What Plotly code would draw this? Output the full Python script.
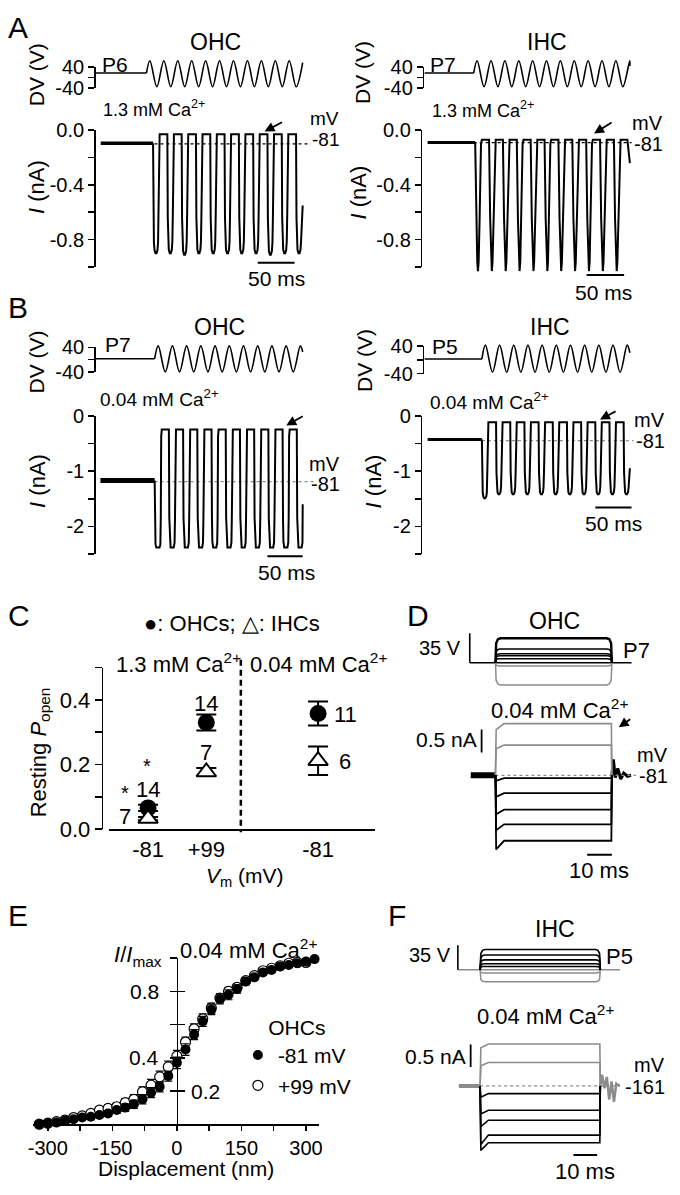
import plotly.graph_objects as go

W, H = 680, 1195
FONT = "Liberation Sans, Arial, sans-serif"
K = "#000000"
G = "#8c8c8c"

# ======================= DATA =======================
# ---- A, OHC (P6), 1.3 mM Ca2+ : time (ms), current (nA), stimulus DV (V)
A1_base = -0.095
A1_step = 71.0
A1_period = 19.4
A1_troughs = [-0.90, -0.90, -0.91, -0.90, -0.90, -0.90, -0.90, -0.90, -0.91, -0.90, -0.90]
A1_peaks = [-0.03, -0.03, -0.03, -0.03, -0.03, -0.03, -0.03, -0.03, -0.03, -0.03]
A1_end = [274.0, -0.55]
A1_rest = -0.10
A1_rest_t = [73.0, 285.0]
A1_dv_t0 = -6.6
A1_dv_base = 17
A1_dv_on = 62.0
A1_dv_period = 18.9
A1_dv_peaks = [65, 65, 65, 65, 65, 65, 65, 65, 65, 65, 65]
A1_dv_troughs = [-36, -36, -36, -36, -36, -36, -36, -36, -36, -36, -36]
A1_dv_end = [274.0, 58]

# ---- A, IHC (P7), 1.3 mM Ca2+
A2_base = -0.09
A2_step = 63.4
A2_period = 18.5
A2_troughs = [-1.03, -1.03, -1.03, -1.03, -1.03, -1.03, -1.03, -1.03, -1.03, -1.03, -1.03]
A2_peaks = [-0.07, -0.07, -0.07, -0.07, -0.07, -0.07, -0.07, -0.07, -0.07, -0.07, -0.07]
A2_end = [269.7, -0.24]
A2_rest = -0.09
A2_rest_t = [61.4, 272.0]
A2_dv_t0 = -4.3
A2_dv_base = 17
A2_dv_on = 61.4
A2_dv_period = 18.5
A2_dv_peaks = [65, 65, 65, 65, 65, 65, 65, 65, 65, 65, 65, 65]
A2_dv_troughs = [-36, -36, -36, -36, -36, -36, -36, -36, -36, -36, -36]
A2_dv_end = [269.7, 45]

# ---- B, OHC (P7), 0.04 mM Ca2+
B1_base = -1.17
B1_step = 77.1
B1_period = 20.2
B1_troughs = [-2.38, -2.38, -2.38, -2.38, -2.38, -2.38, -2.38, -2.38, -2.38, -2.38, -2.38]
B1_peaks = [-0.25, -0.25, -0.25, -0.25, -0.25, -0.25, -0.25, -0.25, -0.25, -0.25]
B1_end = [287.5, -1.6]
B1_rest = -1.19
B1_rest_t = [77.0, 303.0]
B1_dv_t0 = -6.5
B1_dv_base = 3
B1_dv_on = 77.1
B1_dv_period = 20.2
B1_dv_peaks = [45, 45, 45, 45, 45, 45, 45, 45, 45, 45, 45]
B1_dv_troughs = [-40, -40, -40, -40, -40, -40, -40, -40, -40, -40]
B1_dv_end = [287.5, 25]

# ---- B, IHC (P5), 0.04 mM Ca2+
B2_base = -0.43
B2_step = 75.0
B2_period = 19.6
B2_troughs = [-1.49, -1.42, -1.42, -1.42, -1.42, -1.42, -1.42, -1.42, -1.42, -1.42, -1.42]
B2_peaks = [-0.12, -0.12, -0.12, -0.12, -0.12, -0.12, -0.12, -0.12, -0.12, -0.12]
B2_end = [279.6, -0.95]
B2_rest = -0.45
B2_rest_t = [75.0, 284.5]
B2_dv_t0 = -4.4
B2_dv_base = 2
B2_dv_on = 75.0
B2_dv_period = 19.6
B2_dv_peaks = [42, 42, 42, 42, 42, 42, 42, 42, 42, 42, 42]
B2_dv_troughs = [-36, -36, -36, -36, -36, -36, -36, -36, -36, -36]
B2_dv_end = [279.6, 20]

# ---- C, resting Popen
C_pos = [1, 2, 3.92]
C_labels = ["-81", "+99", "-81"]
C_ohc = [0.066, 0.330, 0.358]
C_ohc_err = [0.010, 0.025, 0.037]
C_ihc = [0.033, 0.177, 0.212]
C_ihc_err = [0.005, 0.012, 0.044]

# ---- D, OHC (P7) steps, 0.04 mM Ca2+
D_off = 47.2
D_dv_t = [-10.4, 55.2]
D_dv_black = [29.0, 16.3, 10.5, 8.2, 4.7]
D_dv_grey = [-4.0, -26.5]
D_i_black = [-0.06, -0.39, -0.75, -1.07, -1.43]
D_i_black_on = [-0.12, -0.47, -0.85, -1.20, -1.62]
D_i_grey = [1.13, 0.66]
D_i_grey_on = [1.00, 0.58]
D_pre_t = [-10.0, 0.0]
D_post_t = [47.2, 47.8, 48.6, 49.6, 50.8, 52.0, 53.5, 55.0]
D_post_v = [0.0, 0.35, -0.05, 0.15, -0.08, 0.05, -0.02, 0.0]
D_rest_t = [0.0, 57.0]

# ---- E, activation curves (OHCs)
E_disp = [-320, -300, -280, -260, -240, -220, -200, -180, -160, -140, -120, -100, -80, -60, -40, -20, 0,
          20, 40, 60, 80, 100, 120, 140, 160, 180, 200, 220, 240, 260, 280, 300, 320]
E_m81 = [0.0, 0.006, 0.01, 0.02, 0.03, 0.04, 0.045, 0.055, 0.065, 0.085, 0.10, 0.12, 0.15, 0.19, 0.225, 0.29, 0.37,
         0.45, 0.54, 0.62, 0.69, 0.755, 0.78, 0.815, 0.86, 0.885, 0.915, 0.93, 0.95, 0.96, 0.97, 0.98, 0.995]
E_m81_err = [0.005, 0.005, 0.005, 0.006, 0.008, 0.01, 0.012, 0.014, 0.016, 0.02, 0.022, 0.025, 0.028, 0.03, 0.03, 0.03, 0.035,
             0.035, 0.03, 0.03, 0.03, 0.03, 0.03, 0.025, 0.02, 0.018, 0.015, 0.012, 0.01, 0.008, 0.008, 0.006, 0.006]
E_p99 = [0.0, 0.006, 0.015, 0.025, 0.04, 0.05, 0.065, 0.085, 0.095, 0.105, 0.13, 0.15, 0.195, 0.235, 0.285, 0.345, 0.41,
         0.495, 0.575, 0.635, 0.70, 0.76, 0.80, 0.825, 0.865, 0.895, 0.925, 0.94, 0.955, 0.97, 0.975, 0.975, 1.01]
E_p99_err = [0.005, 0.005, 0.006, 0.008, 0.01, 0.012, 0.014, 0.016, 0.02, 0.022, 0.025, 0.028, 0.03, 0.035, 0.035, 0.035, 0.035,
             0.03, 0.03, 0.03, 0.03, 0.025, 0.025, 0.02, 0.018, 0.016, 0.014, 0.012, 0.01, 0.008, 0.008, 0.006, 0.006]

# ---- F, IHC (P5) steps, 0.04 mM Ca2+
F_off = 50.75
F_dv_t = [-9.4, 59.1]
F_dv_black = [28.8, 21.0, 14.0, 8.4, 4.6]
F_dv_grey = [-4.8, -17.4]
F_i_black = [-0.17, -0.54, -0.76, -1.09, -1.26]
F_i_black_on = [-0.25, -0.62, -0.90, -1.30, -1.43]
F_i_grey = [0.93, 0.52]
F_i_grey_on = [0.85, 0.45]
F_pre_t = [-9.0, 0.0]
F_post_t = [50.75, 51.5, 52.5, 53.5, 54.5, 55.5, 56.5, 57.5, 59.0]
F_post_v = [0.0, 0.25, -0.05, 0.2, -0.3, 0.1, -0.35, 0.05, 0.0]
F_rest_t = [0.0, 59.0]

# ======================= waveform templates (shape only) =======================
U_DOWN = [(0.0, 0.0), (0.03, 0.7), (0.06, 0.9), (0.10, 0.97), (0.17, 1.0), (0.24, 1.0), (0.31, 0.97), (0.35, 0.9)]
U_UP = [(0.38, 0.7), (0.42, 0.08), (0.46, 0.0), (0.97, 0.0)]
R_DOWN = [(0.0, 0.0), (0.03, 0.75), (0.06, 0.95), (0.12, 1.0), (0.34, 1.0), (0.40, 0.96)]
R_UP = [(0.43, 0.75), (0.46, 0.06), (0.50, 0.0), (0.97, 0.0)]
V_DOWN = [(0.0, 0.0), (0.08, 0.6), (0.15, 0.93), (0.2, 1.0)]
V_UP = [(0.25, 0.93), (0.32, 0.6), (0.42, 0.03), (0.48, 0.0), (0.97, 0.0)]


def osc(t_step, period, base, troughs, peaks, end, down, up):
    ts, vs = [], []
    prev = base
    for k, tr in enumerate(troughs):
        for ph, fr in down:
            ts.append(t_step + (k + ph) * period)
            vs.append(prev + fr * (tr - prev))
        if k < len(peaks):
            pk = peaks[k]
            for ph, fr in up:
                ts.append(t_step + (k + ph) * period)
                vs.append(pk + fr * (tr - pk))
            prev = pk
    ts.append(end[0])
    vs.append(end[1])
    return ts, vs


def sine(t_on, period, base, peaks, troughs, end):
    ts, vs = [t_on], [base]
    for k in range(len(peaks)):
        ts.append(t_on + (k + 0.25) * period)
        vs.append(peaks[k])
        if k < len(troughs):
            ts.append(t_on + (k + 0.75) * period)
            vs.append(troughs[k])
    ts.append(end[0])
    vs.append(end[1])
    return ts, vs


def vpulse(off, lev):
    return ([0, 0.3, 1.0, 2.0, off - 2.0, off - 1.0, off - 0.3, off],
            [0, 0.8 * lev, 0.96 * lev, lev, lev, 0.96 * lev, 0.8 * lev, 0])


def ipulse(off, lev, onset):
    return [0, 0.3, 3.5, off - 0.2, off], [0, onset, lev, lev, 0]


# ======================= figure helpers =======================
fig = go.Figure()
layout = {}
ann = []
shapes = []
_n = [0]


def axes(xdom, ydom, xcal, ycal, xkw=None, ykw=None):
    _n[0] += 1
    s = "" if _n[0] == 1 else str(_n[0])
    xp, xv, xs = xcal
    yp, yv, ys = ycal
    xa = dict(domain=[xdom[0] / W, xdom[1] / W],
              range=[xv + (xdom[0] - xp) / xs, xv + (xdom[1] - xp) / xs],
              visible=False, fixedrange=True, anchor="y" + s, showgrid=False, zeroline=False)
    ya = dict(domain=[1 - ydom[1] / H, 1 - ydom[0] / H],
              range=[yv + (yp - ydom[1]) / ys, yv + (yp - ydom[0]) / ys],
              visible=False, fixedrange=True, anchor="x" + s, showgrid=False, zeroline=False)
    if xkw:
        xa.update(xkw)
    if ykw:
        ya.update(ykw)
    layout["xaxis" + s] = xa
    layout["yaxis" + s] = ya
    return "x" + s, "y" + s


def yvis(vals, text, minor_vals, ticklen=6, size=20, **kw):
    d = dict(visible=True, showline=True, linecolor=K, linewidth=1.6, ticks="outside", ticklen=ticklen,
             tickwidth=1.6, tickcolor=K, tickvals=vals,
             tickfont=dict(size=size, family=FONT, color=K))
    if text is not None:
        d["ticktext"] = text
    if minor_vals:
        d["minor"] = dict(tickvals=minor_vals, ticks="outside", ticklen=ticklen, tickwidth=1.6, tickcolor=K,
                          showgrid=False)
    d.update(kw)
    return d


def line(xa, ya, t, v, color=K, width=2.0, dash=None, shape="linear"):
    fig.add_trace(go.Scatter(x=t, y=v, xaxis=xa, yaxis=ya, mode="lines",
                             line=dict(color=color, width=width, dash=dash, shape=shape),
                             showlegend=False, hoverinfo="skip"))


def T(s, x, y, size=21, xa="center", ya="middle", ang=0, color=K, xref="paper", yref="paper"):
    if xref == "paper":
        x = x / W
    if yref == "paper":
        y = 1 - y / H
    ann.append(dict(text=s, x=x, y=y, xref=xref, yref=yref, xanchor=xa, yanchor=ya, showarrow=False,
                    textangle=ang, borderpad=0, font=dict(size=size, color=color, family=FONT)))


def arrow(xt, yt, xh, yh):
    ann.append(dict(text="", x=xh / W, y=1 - yh / H, xref="paper", yref="paper", ax=xt - xh, ay=yt - yh,
                    showarrow=True, arrowhead=2, arrowsize=1.1, arrowwidth=1.8, arrowcolor=K))


CA13 = "1.3 mM Ca<sup>2+</sup>"
CA004 = "0.04 mM Ca<sup>2+</sup>"
I_LAB = "<i>I</i> (nA)"


def trace_panel(x_axis_px, stim_axis_px, right_px, xcal, cur_top, cur_bot, cur_cal, cur_ticks, cur_text,
                cur_minor, stim_top, stim_bot,
                base, step, period, troughs, peaks, end, down, up, rest, rest_t, base_w, rest_col,
                dv_t0, dv_base, dv_on, dv_period, dv_peaks, dv_troughs, dv_end, bar_t, bar_y):
    # visible current axis (carries the baseline and the resting-level line)
    xf, yf = axes((x_axis_px, right_px), (cur_top, cur_bot), xcal, cur_cal,
                  ykw=yvis(cur_ticks, cur_text, cur_minor))
    line(xf, yf, [0, step], [base, base], width=base_w)
    line(xf, yf, rest_t, [rest, rest], color=rest_col, width=1.2, dash="3px,3px")
    # free-drawing area with the same scale
    xd, yd = axes((x_axis_px, right_px + 30), (cur_top - 20, cur_bot + 40), xcal, cur_cal)
    t, v = osc(step, period, base, troughs, peaks, end, down, up)
    line(xd, yd, t, v, width=2.0)
    line(xd, yd, bar_t, [bar_y, bar_y], width=2.0)
    # stimulus bracket axis (carries the flat pre-stimulus segment)
    stim_cal = (stim_top, 40, (stim_bot - stim_top) / 80.0)
    xs0, ys0 = axes((stim_axis_px, right_px), (stim_top, stim_bot), xcal, stim_cal,
                    ykw=yvis([-40, 40], ["-40", "40"], [0], ticklen=6))
    line(xs0, ys0, [dv_t0, dv_on], [dv_base, dv_base], width=1.6)
    xs, ys = axes((stim_axis_px, right_px), (stim_top - 14, stim_bot + 10), xcal, stim_cal)
    t, v = sine(dv_on, dv_period, dv_base, dv_peaks, dv_troughs, dv_end)
    line(xs, ys, t, v, width=1.6, shape="spline")


A_TICKS = ([0, -0.4, -0.8], ["0.0", "-0.4", "-0.8"], [-0.2, -0.6, -1.0])
B_TICKS = ([0, -1, -2], ["0", "-1", "-2"], [-0.5, -1.5, -2.5])

# ======================= Panel A =======================
trace_panel(92, 92, 315, (97, 0, 0.747), 121.7, 261.22, (121.7, 0, 139.5), *A_TICKS,
            57.3, 78.3,
            A1_base, A1_step, A1_period, A1_troughs, A1_peaks, A1_end, U_DOWN, U_UP,
            A1_rest, A1_rest_t, 3.5, K,
            A1_dv_t0, A1_dv_base, A1_dv_on, A1_dv_period, A1_dv_peaks, A1_dv_troughs, A1_dv_end,
            [213.0, 263.0], -0.97)
trace_panel(423, 425, 645, (428.3, 0, 0.76), 121.7, 261.22, (121.7, 0, 139.5), *A_TICKS,
            57.3, 78.3,
            A2_base, A2_step, A2_period, A2_troughs, A2_peaks, A2_end, V_DOWN, V_UP,
            A2_rest, A2_rest_t, 3.0, K,
            A2_dv_t0, A2_dv_base, A2_dv_on, A2_dv_period, A2_dv_peaks, A2_dv_troughs, A2_dv_end,
            [212.0, 262.0], -1.058)

# ======================= Panel B =======================
trace_panel(92, 92, 315, (96.7, 0, 0.713), 413, 554.27, (413, 0, 56.5), *B_TICKS,
            343.3, 368.3,
            B1_base, B1_step, B1_period, B1_troughs, B1_peaks, B1_end, R_DOWN, R_UP,
            B1_rest, B1_rest_t, 5.0, G,
            B1_dv_t0, B1_dv_base, B1_dv_on, B1_dv_period, B1_dv_peaks, B1_dv_troughs, B1_dv_end,
            [237.4, 287.4], -2.54)
trace_panel(423, 425, 645, (428.3, 0, 0.733), 413, 554.27, (413, 0, 56.5), *B_TICKS,
            341.7, 370.0,
            B2_base, B2_step, B2_period, B2_troughs, B2_peaks, B2_end, U_DOWN, U_UP,
            B2_rest, B2_rest_t, 3.0, G,
            B2_dv_t0, B2_dv_base, B2_dv_on, B2_dv_period, B2_dv_peaks, B2_dv_troughs, B2_dv_end,
            [231.9, 281.9], -1.66)

# A/B texts
for x, y, s in [(13, 17, "A"), (13, 303, "B"), (14, 617, "C"), (419, 617, "D"), (13, 923, "E"), (397, 923, "F")]:
    T(s, x, y, size=30)
for x, y, s in [(213, 32, "OHC"), (549, 32, "IHC"), (217, 322, "OHC"), (552, 322, "IHC"),
                (557, 622, "OHC"), (557, 937, "IHC")]:
    T(s, x, y, size=23)
for x, y, s in [(97, 55, "P6"), (430, 55, "P7"), (100, 340, "P7"), (432, 342, "P5")]:
    T(s, x, y, xa="left")
T("P7", 625, 653, xa="left", size=22)
T("P5", 608, 965, xa="left", size=22)
for x, y in [(32, 65), (363, 63), (32, 358), (365, 357)]:
    T("DV (V)", x, y, ang=-90)
for x, y in [(32, 180), (358, 185), (33, 480), (373, 480)]:
    T(I_LAB, x, y, ang=-90, size=22)
T(CA13, 98, 100, size=18, xa="left")
T(CA13, 432, 101, size=18, xa="left")
T(CA004, 95, 395, size=19, xa="left")
T(CA004, 430, 398, size=19, xa="left")
for xr, y1, y2, lab, fs in [(339, 110, 131, "-81", 19), (668, 114, 136, "-81", 20), (340, 462, 483, "-81", 20),
                            (670, 417, 439, "-81", 20), (673, 759, 781, "-81", 20), (670, 1076, 1098, "-161", 20)]:
    T("mV", xr, y1, xa="right", size=fs)
    T(lab, xr, y2, xa="right", size=fs)
for x, y in [(275, 273), (607, 287), (285, 573), (617, 523)]:
    T("50 ms", x, y)
arrow(282, 113, 263, 123)
arrow(616, 113, 597, 125)
arrow(303, 413, 285, 423)
arrow(620, 408, 603, 417)
arrow(635, 722, 622, 731)

# ======================= Panel C =======================
xc, yc = axes((105, 375), (670, 835), (145, 1, 59), (835, 0, 330),
              xkw=dict(visible=True, showline=True, linecolor=K, linewidth=1.6, ticks="",
                       tickvals=C_pos, ticktext=C_labels, tickfont=dict(size=22, family=FONT, color=K)),
              ykw=yvis([0, 0.2, 0.4], ["0.0", "0.2", "0.4"], [0.1, 0.3, 0.5], ticklen=7, size=22,
                       anchor="free", position=98 / W))
fig.add_trace(go.Scatter(x=C_pos, y=C_ohc, xaxis=xc, yaxis=yc, mode="markers", cliponaxis=False,
                         marker=dict(symbol="circle", size=17, color=K),
                         error_y=dict(type="data", array=C_ohc_err, color=K, thickness=2, width=10),
                         showlegend=False, hoverinfo="skip"))
fig.add_trace(go.Scatter(x=C_pos, y=C_ihc, xaxis=xc, yaxis=yc, mode="markers", cliponaxis=False,
                         marker=dict(symbol="triangle-up", size=17, color="white", line=dict(color=K, width=2)),
                         error_y=dict(type="data", array=C_ihc_err, color=K, thickness=2, width=10),
                         showlegend=False, hoverinfo="skip"))
shapes.append(dict(type="line", xref="paper", yref="paper", x0=239 / W, x1=239 / W, y0=1 - 662 / H,
                   y1=1 - 838 / H, line=dict(color=K, width=2.5, dash="6px,4px")))
T("●: OHCs; △: IHCs", 230, 625, size=22)
T(CA13, 176, 665, size=22)
T(CA004, 318, 665, size=22)
for x, y, s, fs in [(122, 822, "7", 22), (122, 798, "*", 20), (145, 794, "14", 22), (144, 770, "*", 20),
                    (204, 707, "14", 22), (204, 757, "7", 22), (345, 718, "11", 22), (345, 766, "6", 22)]:
    T(s, x, y, size=fs)
T("<i>V</i><sub>m</sub> (mV)", 243, 884, size=21)
T("Resting <i>P</i><sub>open</sub>", 35, 757, ang=-90, size=22)

# ======================= Panel D =======================
xs, ys = axes((460, 650), (620, 700), (497, 0, 2.5), (665, 0, 0.857))
line(xs, ys, D_dv_t, [0, 0], width=1.5)
line(xs, ys, [D_dv_t[0], D_dv_t[0]], [0, 35], width=1.6)
for lev in D_dv_grey:
    t, v = vpulse(D_off, lev)
    line(xs, ys, t, v, color=G, width=1.5)
for i, lev in enumerate(D_dv_black):
    t, v = vpulse(D_off, lev)
    line(xs, ys, t, v, width=2.4 if i == 0 else 1.5)
xd, yd = axes((460, 650), (712, 880), (497, 0, 2.5), (780, 0, 46.7))
line(xd, yd, D_pre_t, [0, 0], width=6)
line(xd, yd, D_post_t, D_post_v, width=3)
line(xd, yd, D_rest_t, [0, 0], color=G, width=1.2, dash="3px,3px")
for lev, on in zip(D_i_grey, D_i_grey_on):
    t, v = ipulse(D_off, lev, on)
    line(xd, yd, t, v, color=G, width=1.6)
for lev, on in zip(D_i_black, D_i_black_on):
    t, v = ipulse(D_off, lev, on)
    line(xd, yd, t, v, width=1.8)
line(xd, yd, [-5.6, -5.6], [0.5, 1.0], width=1.8)
line(xd, yd, [37.2, 47.2], [-1.735, -1.735], width=2)
T("35 V", 463, 650, xa="right", size=20)
T(CA004, 562, 712, size=22)
T("0.5 nA", 479, 743, xa="right", size=21)
T("10 ms", 602, 877, size=22)

# ======================= Panel E =======================
xe, ye = axes((28, 318), (966.7, 1136), (174.2, 0, 0.436), (1136, 0, 169.3),
              xkw=dict(visible=True, showline=True, linecolor=K, linewidth=1.6, ticks="outside", ticklen=5,
                       tickwidth=1.6, tickcolor=K,
                       tickvals=[-300, -150, 0, 150, 300], ticktext=["-300", "-150", "0", "150", "300"],
                       minor=dict(tickvals=[-225, -75, 75, 225], ticks="outside", ticklen=5, tickwidth=1.6,
                                  tickcolor=K, showgrid=False),
                       tickfont=dict(size=20, family=FONT, color=K)),
              ykw=yvis([0.2, 0.4, 0.6, 0.8, 1.0], None, None, ticklen=7, anchor="free",
                       position=174.2 / W, showticklabels=False))
_n[0] += 1
ye2 = "y" + str(_n[0])
layout["yaxis" + str(_n[0])] = dict(overlaying=ye, anchor="free", position=174.2 / W,
                                    range=layout["yaxis" + ye[1:]]["range"], visible=True, showline=False,
                                    ticks="inside", ticklen=7, tickwidth=1.6, tickcolor=K,
                                    tickvals=[0.2, 0.4, 0.6, 0.8, 1.0], showticklabels=False,
                                    showgrid=False, zeroline=False, fixedrange=True)
fig.add_trace(go.Scatter(x=E_disp, y=E_p99, xaxis=xe, yaxis=ye, mode="markers", cliponaxis=False,
                         name="+99 mV", legendrank=2,
                         marker=dict(symbol="circle", size=10, color="white", line=dict(color=K, width=1.2)),
                         error_y=dict(type="data", array=E_p99_err, color=K, thickness=1.2, width=4),
                         hoverinfo="skip"))
fig.add_trace(go.Scatter(x=E_disp, y=E_m81, xaxis=xe, yaxis=ye2, mode="markers", cliponaxis=False,
                         name="-81 mV", legendrank=1,
                         marker=dict(symbol="circle", size=10, color=K),
                         error_y=dict(type="data", array=E_m81_err, color=K, thickness=1.2, width=4),
                         hoverinfo="skip"))
T("0.8", -40, 0.8, xa="right", xref=xe, yref=ye, size=21)
T("0.4", -40, 0.4, xa="right", xref=xe, yref=ye, size=21)
T("0.2", 31, 0.2, xa="left", xref=xe, yref=ye, size=21)
T("<i>I</i>/<i>I</i><sub>max</sub>", 160, 964, xa="right", size=22)
T(CA004, 247, 957, size=22)
T("Displacement (nm)", 183, 1181, size=21)

# ======================= Panel F =======================
xs, ys = axes((450, 650), (938, 1002), (481.5, 0, 2.4), (978.3, 0, 0.714))
line(xs, ys, F_dv_t, [0, 0], color=G, width=1.5)
line(xs, ys, [F_dv_t[0], F_dv_t[0]], [0, 35], width=1.6)
for lev in F_dv_grey:
    t, v = vpulse(F_off, lev)
    line(xs, ys, t, v, color=G, width=1.5)
for lev in F_dv_black:
    t, v = vpulse(F_off, lev)
    line(xs, ys, t, v, width=1.6)
xd, yd = axes((450, 650), (1035, 1185), (481.5, 0, 2.4), (1097, 0, 46))
line(xd, yd, F_pre_t, [0, 0], color=G, width=4)
line(xd, yd, F_post_t, F_post_v, color=G, width=2.5)
line(xd, yd, F_rest_t, [0, 0], color=G, width=1.2, dash="3px,3px")
for lev, on in zip(F_i_grey, F_i_grey_on):
    t, v = ipulse(F_off, lev, on)
    line(xd, yd, t, v, color=G, width=1.6)
for lev, on in zip(F_i_black, F_i_black_on):
    t, v = ipulse(F_off, lev, on)
    line(xd, yd, t, v, width=1.6)
line(xd, yd, [-4.0, -4.0], [0.42, 0.92], width=1.8)
line(xd, yd, [39.4, 49.4], [-1.53, -1.53], width=2)
T("35 V", 453, 963, xa="right", size=20)
T(CA004, 548, 1025, size=22)
T("0.5 nA", 468, 1067, xa="right", size=21)
T("10 ms", 588, 1184, size=22)

layout.update(dict(
    width=W, height=H, margin=dict(l=0, r=0, t=0, b=0),
    paper_bgcolor="white", plot_bgcolor="rgba(0,0,0,0)",
    font=dict(family=FONT, size=21, color=K),
    showlegend=True,
    legend=dict(x=236 / W, y=1 - 1017 / H, xanchor="left", yanchor="top", bgcolor="rgba(0,0,0,0)",
                font=dict(size=21, family=FONT, color=K), itemwidth=30, tracegroupgap=0,
                title=dict(text="OHCs", side="top center", font=dict(size=21, family=FONT, color=K))),
    annotations=ann, shapes=shapes,
))
fig.update_layout(layout)
fig.write_html("out.html", config={"displayModeBar": False, "staticPlot": True},
               post_script="document.body.style.margin='0px';document.body.style.padding='0px';"
                           "document.body.style.overflow='hidden';")
